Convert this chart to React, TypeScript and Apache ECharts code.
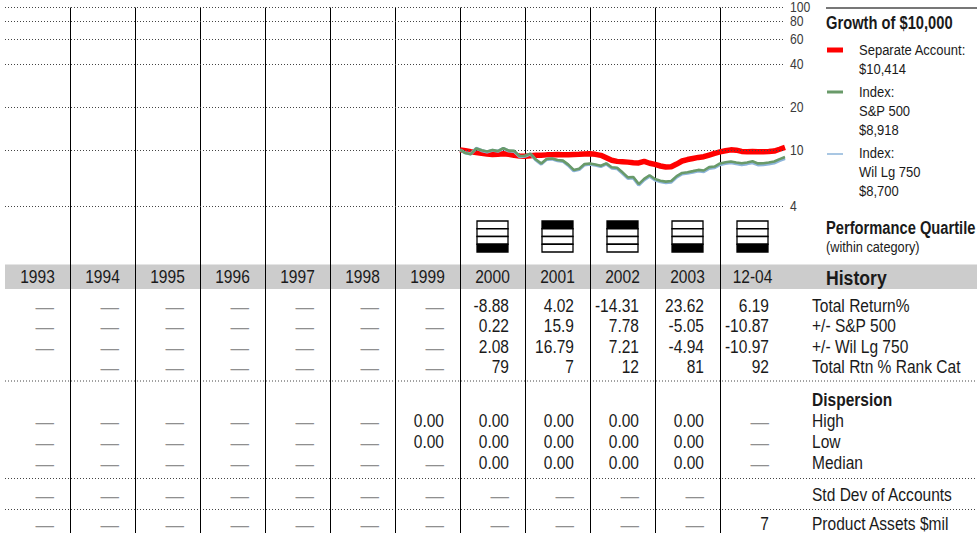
import React, { useEffect, useRef } from "react";
import * as echarts from "echarts";

// Liberation Sans squeezed horizontally gives the condensed face of the report
const FONT = "'Liberation Sans', Arial, sans-serif";
const SQUEEZE = 0.84;
const INK = "#1a1a1a";
const DASH_INK = "#8f8f8f";

// History table columns (calendar years, the last one year-to-date)
const columns = ["1993", "1994", "1995", "1996", "1997", "1998", "1999", "2000", "2001", "2002", "2003", "12-04"];
const firstYear = 1993;

// Growth of $10,000 in $000, month-end values from the start of 2000 through 12-04
const growthStart = 2000;
const separateAccount = [
  10.0, 9.85, 9.7, 9.58, 9.45, 9.35, 9.28, 9.32, 9.38, 9.3, 9.15, 9.06, 9.03,
  9.08, 9.15, 9.18, 9.22, 9.25, 9.27, 9.25, 9.24, 9.27, 9.3, 9.35, 9.38,
  9.3, 9.15, 8.8, 8.45, 8.3, 8.25, 8.2, 8.12, 8.1, 8.3, 8.05, 7.9,
  7.7, 7.58, 7.6, 7.95, 8.35, 8.55, 8.7, 8.85, 8.95, 9.2, 9.45, 9.68,
  9.85, 10.0, 9.95, 9.75, 9.7, 9.72, 9.68, 9.7, 9.72, 9.8, 10.1, 10.414,
];
const sp500 = [
  10.0, 9.5, 9.32, 10.23, 9.92, 9.72, 9.96, 9.81, 10.28, 9.87, 9.83, 9.05, 9.09,
  9.41, 8.55, 8.01, 8.63, 8.69, 8.48, 8.4, 7.87, 7.23, 7.37, 7.94, 8.01,
  7.89, 7.74, 8.03, 7.54, 7.49, 6.95, 6.41, 6.45, 5.75, 6.26, 6.63, 6.24,
  6.07, 5.98, 6.04, 6.54, 6.88, 6.97, 7.09, 7.23, 7.16, 7.56, 7.63, 8.03,
  8.18, 8.29, 8.16, 8.04, 8.15, 8.31, 8.03, 8.06, 8.15, 8.28, 8.61, 8.918,
];
const wilLg750 = [
  10.0, 9.52, 9.38, 10.25, 9.88, 9.66, 9.93, 9.78, 10.25, 9.82, 9.75, 8.95, 9.02,
  9.36, 8.48, 7.94, 8.57, 8.62, 8.4, 8.31, 7.78, 7.13, 7.28, 7.85, 7.92,
  7.8, 7.65, 7.95, 7.45, 7.39, 6.85, 6.31, 6.35, 5.66, 6.16, 6.53, 6.14,
  5.97, 5.88, 5.94, 6.43, 6.77, 6.85, 6.97, 7.1, 7.03, 7.42, 7.49, 7.88,
  8.02, 8.12, 7.99, 7.87, 7.98, 8.13, 7.85, 7.88, 7.96, 8.09, 8.41, 8.7,
];
const growthTicks = [4, 10, 20, 40, 60, 80, 100];

// Table cells: null = not available (dash), "" = empty cell
const totalReturn = [null, null, null, null, null, null, null, -8.88, 4.02, -14.31, 23.62, 6.19];
const vsSP500 = [null, null, null, null, null, null, null, 0.22, 15.9, 7.78, -5.05, -10.87];
const vsWilLg750 = [null, null, null, null, null, null, null, 2.08, 16.79, 7.21, -4.94, -10.97];
const rankInCategory = ["", null, null, null, null, null, null, 79, 7, 12, 81, 92];
const dispersionHigh = [null, null, null, null, null, null, 0, 0, 0, 0, 0, null];
const dispersionLow = [null, null, null, null, null, null, 0, 0, 0, 0, 0, null];
const dispersionMedian = [null, null, null, null, null, null, null, 0, 0, 0, 0, null];
const stdDevAccounts = [null, null, null, null, null, null, null, null, null, null, null, ""];
const productAssets = [null, null, null, null, null, null, null, null, null, null, null, 7];

type Cell = number | null | "";

// page layout (px)
const PLOT_LEFT = 5;
const PLOT_WIDTH = 780;
const CHART_TOP = 7.5;
const CHART_HEIGHT = 199;
const LABEL_X = 812;
const HEAD_X = 826;
const TABLE_FONT = 18.5;
const CELL_PAD = 16;
const YEAR_ROW_Y = 277;
const QUARTILE_ROW_Y = 236.5;

const tableRows: { label: string; cells: Cell[]; decimals?: number; y: number }[] = [
  { label: "Total Return%", cells: totalReturn, y: 306 },
  { label: "+/- S&P 500", cells: vsSP500, y: 326.5 },
  { label: "+/- Wil Lg 750", cells: vsWilLg750, y: 347 },
  { label: "Total Rtn % Rank Cat", cells: rankInCategory, y: 367.5 },
  { label: "High", cells: dispersionHigh, decimals: 2, y: 421 },
  { label: "Low", cells: dispersionLow, decimals: 2, y: 442 },
  { label: "Median", cells: dispersionMedian, decimals: 2, y: 463 },
  { label: "Std Dev of Accounts", cells: stdDevAccounts, y: 495 },
  { label: "Product Assets $mil", cells: productAssets, y: 524 },
];

const toLine = (values: number[]) => values.map((v, i) => [growthStart + i / 12, v]);

function squeezedText(t: string, x: number, y: number, size: number, opts: any = {}) {
  return {
    type: "text",
    x,
    y,
    scaleX: opts.scaleX ?? SQUEEZE,
    silent: true,
    style: {
      text: t,
      fill: opts.fill || INK,
      font: `${opts.bold ? "bold " : ""}${size}px ${FONT}`,
      align: opts.align || "left",
      verticalAlign: "middle",
    },
  };
}

function dotted(y: number, x1: number, x2: number) {
  return {
    type: "line",
    silent: true,
    shape: { x1, y1: y, x2, y2: y },
    style: { stroke: "#444", lineWidth: 1, lineDash: [1, 2] },
  };
}

function swatch(y: number, color: string, width: number) {
  return {
    type: "line",
    silent: true,
    shape: { x1: 827, y1: y, x2: 843, y2: y },
    style: { stroke: color, lineWidth: width },
  };
}

const RED = "#ff0000";
const GREEN = "#699a69";
const BLUE = "#8db4da";

function buildOption(): any {
  const quartileData = rankInCategory
    .map((r, i) => (typeof r === "number" ? [firstYear + i + 0.5, QUARTILE_ROW_Y, Math.ceil(r / 25)] : null))
    .filter(Boolean);

  // table cells, right-aligned at each column's right edge
  const cellData: number[][] = [];
  const cellText: string[] = [];
  const cellDash: boolean[] = [];
  tableRows.forEach((row) => {
    row.cells.forEach((v, i) => {
      if (v === "") return;
      cellData.push([firstYear + i + 1, row.y]);
      cellText.push(v === null ? "—" : row.decimals != null ? v.toFixed(row.decimals) : String(v));
      cellDash.push(v === null);
    });
  });

  return {
    animation: false,
    backgroundColor: "#fff",
    grid: [
      { left: PLOT_LEFT, top: CHART_TOP, width: PLOT_WIDTH, height: CHART_HEIGHT },
      { left: PLOT_LEFT, top: CHART_TOP, width: PLOT_WIDTH, height: 533 - CHART_TOP },
    ],
    xAxis: [
      { gridIndex: 0, type: "value", min: firstYear, max: firstYear + columns.length, show: false },
      {
        gridIndex: 1,
        type: "value",
        min: firstYear,
        max: firstYear + columns.length,
        interval: 1,
        axisLine: { show: false },
        axisTick: { show: false },
        axisLabel: { show: false },
        splitLine: {
          show: true,
          showMinLine: false,
          showMaxLine: false,
          lineStyle: { color: "#000", width: 1 },
        },
      },
    ],
    yAxis: [
      { gridIndex: 0, type: "log", logBase: 10, min: 4, max: 100, show: false },
      { gridIndex: 1, type: "value", min: CHART_TOP, max: 533, inverse: true, show: false },
    ],
    series: [
      {
        name: "Separate Account",
        type: "line",
        xAxisIndex: 0,
        yAxisIndex: 0,
        showSymbol: false,
        silent: true,
        z: 3,
        lineStyle: { color: RED, width: 5.5 },
        data: toLine(separateAccount),
        markLine: {
          silent: true,
          symbol: ["none", "none"],
          lineStyle: { color: "#444", width: 1, type: [1, 2] },
          label: { show: false },
          data: growthTicks.map((v) => ({ yAxis: v })),
        },
      },
      {
        name: "Wil Lg 750",
        type: "line",
        xAxisIndex: 0,
        yAxisIndex: 0,
        showSymbol: false,
        silent: true,
        z: 4,
        lineStyle: { color: BLUE, width: 3.2 },
        data: toLine(wilLg750),
      },
      {
        name: "S&P 500",
        type: "line",
        xAxisIndex: 0,
        yAxisIndex: 0,
        showSymbol: false,
        silent: true,
        z: 5,
        lineStyle: { color: GREEN, width: 2.6 },
        data: toLine(sp500),
      },
      // value-axis labels at the right end of the dotted growth lines
      {
        type: "custom",
        xAxisIndex: 0,
        yAxisIndex: 0,
        silent: true,
        clip: false,
        data: growthTicks.map((v) => [firstYear + columns.length, v]),
        renderItem: (_p: any, api: any) => {
          const [x, y] = api.coord([api.value(0), api.value(1)]);
          return squeezedText(String(api.value(1)), x + 5, y, 14.5, { fill: "#3a3a3a" });
        },
      },
      // performance quartile boxes
      {
        type: "custom",
        xAxisIndex: 1,
        yAxisIndex: 1,
        silent: true,
        data: quartileData,
        renderItem: (_params: any, api: any) => {
          const [cx, cy] = api.coord([api.value(0), api.value(1)]);
          const q = api.value(2);
          const size = 31;
          const cell = size / 4;
          const children = [];
          for (let k = 0; k < 4; k++) {
            children.push({
              type: "rect",
              shape: { x: cx - size / 2, y: cy - size / 2 + k * cell, width: size, height: cell },
              style: { fill: k === q - 1 ? "#000" : "#fff", stroke: "#000", lineWidth: 1.3 },
            });
          }
          return { type: "group", children };
        },
      },
      // column headings in the history band
      {
        type: "custom",
        xAxisIndex: 1,
        yAxisIndex: 1,
        silent: true,
        clip: false,
        data: columns.map((_c, i) => [firstYear + i + 0.5, YEAR_ROW_Y]),
        renderItem: (params: any, api: any) => {
          const [x, y] = api.coord([api.value(0), api.value(1)]);
          return squeezedText(columns[params.dataIndex], x, y, TABLE_FONT, { align: "center" });
        },
      },
      // table values
      {
        type: "custom",
        xAxisIndex: 1,
        yAxisIndex: 1,
        silent: true,
        clip: false,
        data: cellData,
        renderItem: (params: any, api: any) => {
          const [x, y] = api.coord([api.value(0), api.value(1)]);
          const i = params.dataIndex;
          return squeezedText(cellText[i], x - CELL_PAD, y, TABLE_FONT, {
            align: "right",
            fill: cellDash[i] ? DASH_INK : INK,
            scaleX: cellDash[i] ? 1 : SQUEEZE,
          });
        },
      },
    ],
    graphic: [
      {
        type: "rect",
        z: -1,
        silent: true,
        shape: { x: 5, y: 264.5, width: 972, height: 24.5 },
        style: { fill: "#cccccc" },
      },
      {
        type: "line",
        silent: true,
        shape: { x1: 826, y1: 8, x2: 977, y2: 8 },
        style: { stroke: "#777", lineWidth: 2 },
      },
      squeezedText("Growth of $10,000", HEAD_X, 23, 17.5, { bold: true }),
      swatch(50, RED, 5),
      squeezedText("Separate Account:", 859, 50, 15.5),
      squeezedText("$10,414", 859, 69, 15.5),
      swatch(92, GREEN, 3),
      squeezedText("Index:", 859, 92, 15.5),
      squeezedText("S&P 500", 859, 111, 15.5),
      squeezedText("$8,918", 859, 130, 15.5),
      swatch(154, BLUE, 1.5),
      squeezedText("Index:", 859, 153, 15.5),
      squeezedText("Wil Lg 750", 859, 172, 15.5),
      squeezedText("$8,700", 859, 191, 15.5),
      squeezedText("Performance Quartile", HEAD_X, 228, 17.5, { bold: true }),
      squeezedText("(within category)", HEAD_X, 247, 15.2),
      squeezedText("History", HEAD_X, 277, 21, { bold: true }),
      ...tableRows.map((r) => squeezedText(r.label, LABEL_X, r.y, TABLE_FONT)),
      squeezedText("Dispersion", LABEL_X, 400, 18.5, { bold: true }),
      dotted(381, 5, 977),
      dotted(478.5, 5, 977),
      dotted(509.5, 5, 977),
    ],
  };
}

export default function App() {
  const ref = useRef<HTMLDivElement>(null);
  useEffect(() => {
    if (!ref.current) return;
    const chart = echarts.init(ref.current, null, { renderer: "svg" });
    chart.setOption(buildOption());
    return () => chart.dispose();
  }, []);
  return (
    <div
      ref={ref}
      style={{ position: "absolute", left: 0, top: 0, width: 977, height: 533, background: "#fff" }}
    />
  );
}
